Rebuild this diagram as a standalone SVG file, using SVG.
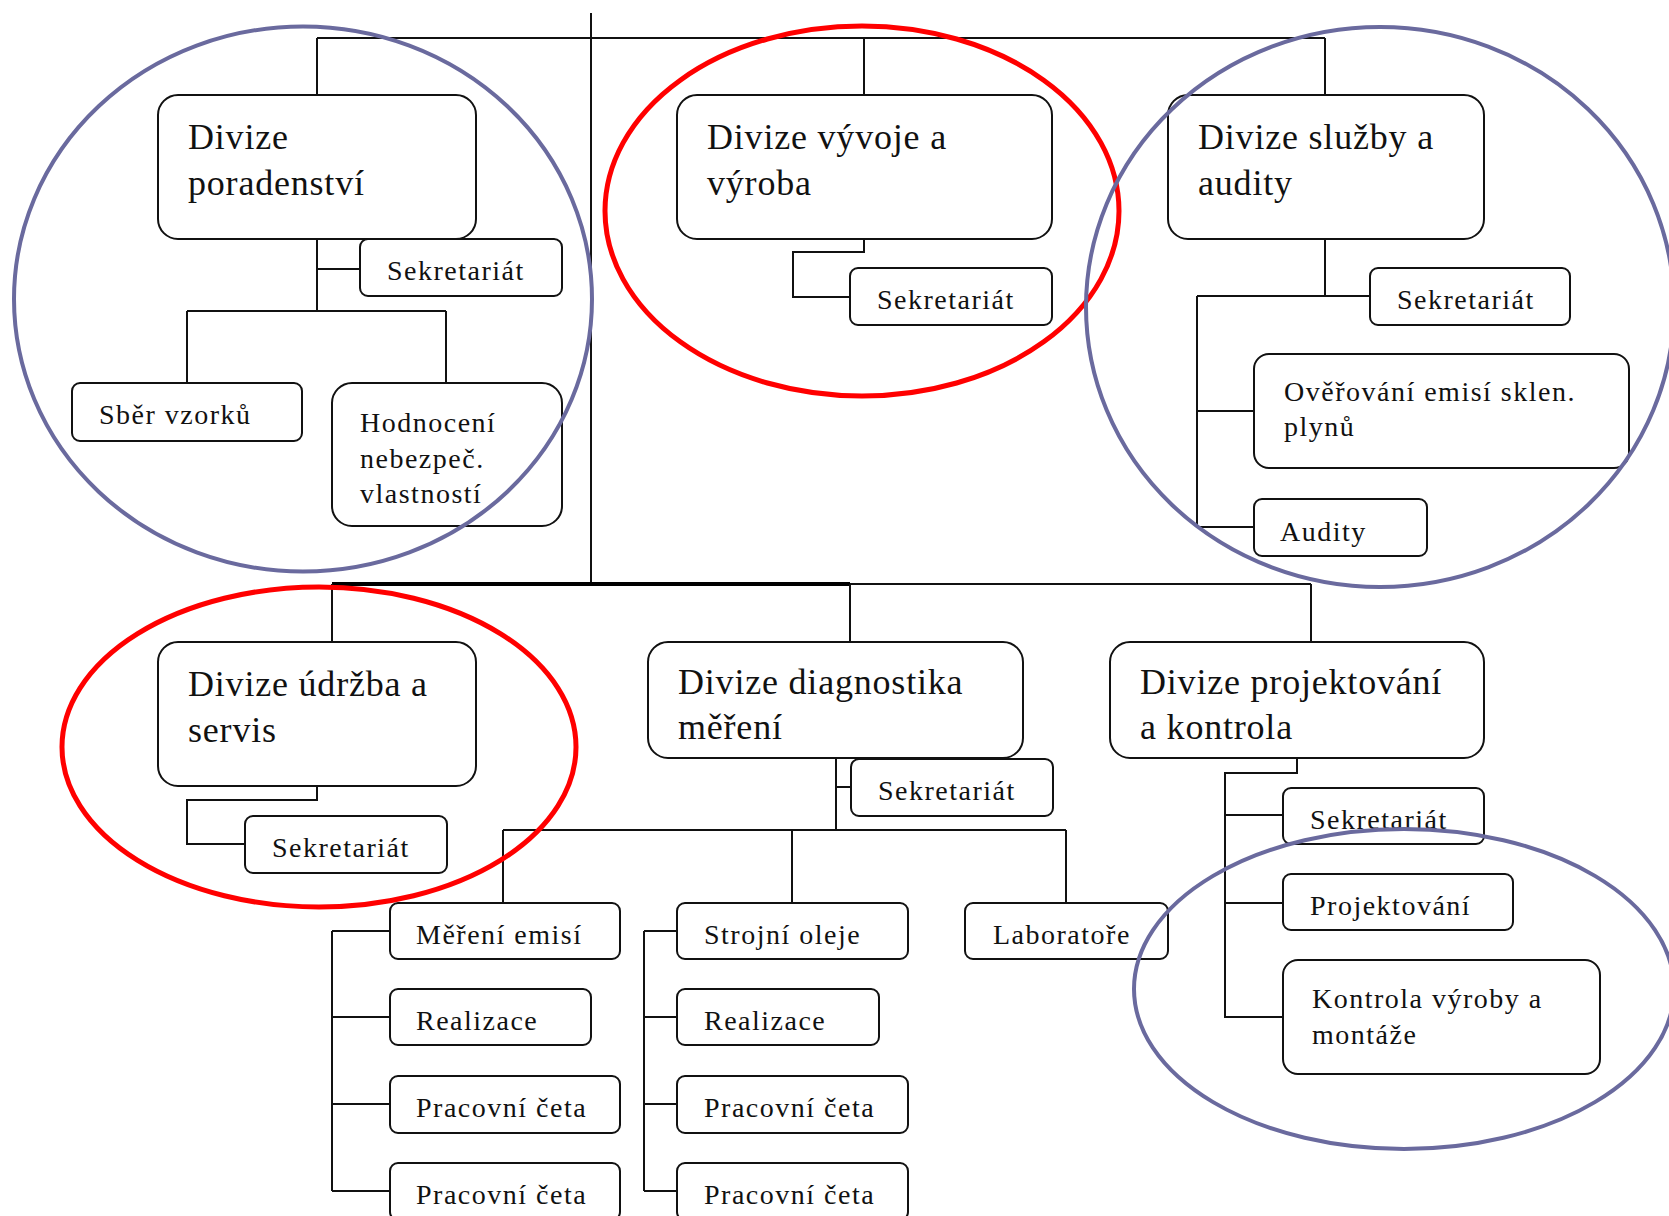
<svg xmlns="http://www.w3.org/2000/svg" width="1669" height="1216" viewBox="0 0 1669 1216">
<style>
.box{fill:#fff;stroke:#111;stroke-width:2}
.big{font-family:"Liberation Serif","Times New Roman",serif;font-size:36px;letter-spacing:0.8px;fill:#111}
.sm{font-family:"Liberation Serif","Times New Roman",serif;font-size:28px;letter-spacing:1.5px;fill:#111}
.ln{fill:none;stroke:#111;stroke-width:2}
.blue{fill:none;stroke:#6a6a9e;stroke-width:4}
.red{fill:none;stroke:#ff0000;stroke-width:5}
</style>
<rect width="1669" height="1216" fill="#fff"/>
<g id="connectors">
<path class="ln" d="M591 13V584"/>
<path class="ln" d="M317 38H1325M317 38V95M864 38V95M1325 38V95"/>
<path class="ln" d="M317 239V311M317 269H360M187 311H446M187 311V383M446 311V383"/>
<path class="ln" d="M864 239V252H793V297H850"/>
<path class="ln" d="M1325 239V296H1370M1197 296H1325M1197 296V527H1254M1197 411H1254"/>
<path d="M332 584H850" fill="none" stroke="#000" stroke-width="4"/>
<path class="ln" d="M850 584H1311M332 584V642M850 584V642M1311 584V642"/>
<path class="ln" d="M317 786V800H187V844H245"/>
<path class="ln" d="M836 758V830M836 787H851M503 830H1066M503 830V903M792 830V903M1066 830V903"/>
<path class="ln" d="M332 931V1191M332 931H390M332 1017H390M332 1104H390M332 1191H390"/>
<path class="ln" d="M644 931V1191M644 931H677M644 1017H677M644 1104H677M644 1191H677"/>
<path class="ln" d="M1297 758V773H1225V1017H1283M1225 815H1283M1225 903H1283"/>
</g>
<g id="n-poradenstvi"><rect class="box" x="158" y="95" width="318" height="144" rx="20"/><text class="big" x="188" y="149">Divize</text><text class="big" x="188" y="195">poradenství</text></g>
<g id="n-sekretariat1"><rect class="box" x="360" y="239" width="202" height="57" rx="8"/><text class="sm" x="387" y="280">Sekretariát</text></g>
<g id="n-sber"><rect class="box" x="72" y="383" width="230" height="58" rx="8"/><text class="sm" x="99" y="424">Sběr vzorků</text></g>
<g id="n-hodnoceni"><rect class="box" x="332" y="383" width="230" height="143" rx="20"/><text class="sm" x="360" y="432">Hodnocení</text><text class="sm" x="360" y="468">nebezpeč.</text><text class="sm" x="360" y="503">vlastností</text></g>
<g id="n-vyvoje"><rect class="box" x="677" y="95" width="375" height="144" rx="20"/><text class="big" x="707" y="149">Divize vývoje a</text><text class="big" x="707" y="195">výroba</text></g>
<g id="n-sekretariat2"><rect class="box" x="850" y="268" width="202" height="57" rx="8"/><text class="sm" x="877" y="309">Sekretariát</text></g>
<g id="n-sluzby"><rect class="box" x="1168" y="95" width="316" height="144" rx="20"/><text class="big" x="1198" y="149">Divize služby a</text><text class="big" x="1198" y="195">audity</text></g>
<g id="n-sekretariat3"><rect class="box" x="1370" y="268" width="200" height="57" rx="8"/><text class="sm" x="1397" y="309">Sekretariát</text></g>
<g id="n-overovani"><rect class="box" x="1254" y="354" width="375" height="114" rx="15"/><text class="sm" x="1284" y="401">Ověřování emisí sklen.</text><text class="sm" x="1284" y="436">plynů</text></g>
<g id="n-audity"><rect class="box" x="1254" y="499" width="173" height="57" rx="8"/><text class="sm" x="1280" y="541">Audity</text></g>
<g id="n-udrzba"><rect class="box" x="158" y="642" width="318" height="144" rx="20"/><text class="big" x="188" y="696">Divize údržba a</text><text class="big" x="188" y="742">servis</text></g>
<g id="n-sekretariat4"><rect class="box" x="245" y="816" width="202" height="57" rx="8"/><text class="sm" x="272" y="857">Sekretariát</text></g>
<g id="n-diagnostika"><rect class="box" x="648" y="642" width="375" height="116" rx="20"/><text class="big" x="678" y="694">Divize diagnostika</text><text class="big" x="678" y="739">měření</text></g>
<g id="n-sekretariat5"><rect class="box" x="851" y="759" width="202" height="57" rx="8"/><text class="sm" x="878" y="800">Sekretariát</text></g>
<g id="n-mereni"><rect class="box" x="390" y="903" width="230" height="56" rx="8"/><text class="sm" x="416" y="944">Měření emisí</text></g>
<g id="n-realizace1"><rect class="box" x="390" y="989" width="201" height="56" rx="8"/><text class="sm" x="416" y="1030">Realizace</text></g>
<g id="n-ceta1"><rect class="box" x="390" y="1076" width="230" height="57" rx="8"/><text class="sm" x="416" y="1117">Pracovní četa</text></g>
<g id="n-ceta2"><rect class="box" x="390" y="1163" width="230" height="57" rx="8"/><text class="sm" x="416" y="1204">Pracovní četa</text></g>
<g id="n-strojni"><rect class="box" x="677" y="903" width="231" height="56" rx="8"/><text class="sm" x="704" y="944">Strojní oleje</text></g>
<g id="n-realizace2"><rect class="box" x="677" y="989" width="202" height="56" rx="8"/><text class="sm" x="704" y="1030">Realizace</text></g>
<g id="n-ceta3"><rect class="box" x="677" y="1076" width="231" height="57" rx="8"/><text class="sm" x="704" y="1117">Pracovní četa</text></g>
<g id="n-ceta4"><rect class="box" x="677" y="1163" width="231" height="57" rx="8"/><text class="sm" x="704" y="1204">Pracovní četa</text></g>
<g id="n-laboratore"><rect class="box" x="965" y="903" width="203" height="56" rx="8"/><text class="sm" x="993" y="944">Laboratoře</text></g>
<g id="n-projektovani-div"><rect class="box" x="1110" y="642" width="374" height="116" rx="20"/><text class="big" x="1140" y="694">Divize projektování</text><text class="big" x="1140" y="739">a kontrola</text></g>
<g id="n-sekretariat6"><rect class="box" x="1283" y="788" width="201" height="56" rx="8"/><text class="sm" x="1310" y="829">Sekretariát</text></g>
<g id="n-projektovani"><rect class="box" x="1283" y="874" width="230" height="56" rx="8"/><text class="sm" x="1310" y="915">Projektování</text></g>
<g id="n-kontrola"><rect class="box" x="1283" y="960" width="317" height="114" rx="15"/><text class="sm" x="1312" y="1008">Kontrola výroby a</text><text class="sm" x="1312" y="1044">montáže</text></g>
<g id="highlights">
<ellipse class="blue" cx="303" cy="299" rx="289" ry="272.5"/>
<ellipse class="red" cx="862" cy="211" rx="257" ry="185"/>
<ellipse class="blue" cx="1380" cy="307" rx="294" ry="280"/>
<ellipse class="red" cx="319" cy="747" rx="257" ry="160"/>
<ellipse class="blue" cx="1404" cy="989" rx="270" ry="160"/>
</g>
</svg>
